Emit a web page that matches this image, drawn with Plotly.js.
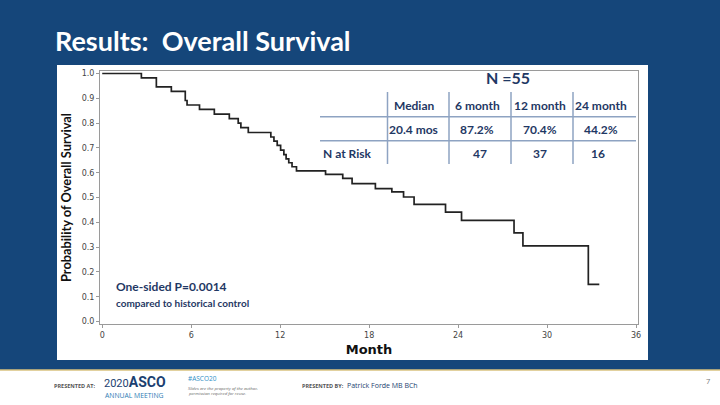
<!DOCTYPE html>
<html>
<head>
<meta charset="utf-8">
<script src="https://cdn.plot.ly/plotly-3.0.1.min.js"></script>
<style>
  html, body { margin: 0; padding: 0; background: #15467A; }
  #chart { width: 720px; height: 405px; }
</style>
</head>
<body>
<div id="chart"></div>
<script>
// ---- Data ----
const months = [0, 2.64, 3.65, 4.66, 5.6, 5.72, 6.56, 7.56, 8.57, 9.17, 9.35, 9.85,
  11.37, 11.58, 11.8, 12.03, 12.25, 12.4, 12.58, 12.8, 13.1,
  15.06, 16.22, 16.85, 18.42, 19.53, 20.32, 21.03, 23.15, 24.23, 27.77, 28.37, 32.78, 33.52];
const survival = [1.0, 0.982, 0.946, 0.928, 0.891, 0.873, 0.855, 0.836, 0.818, 0.800, 0.782, 0.762,
  0.744, 0.727, 0.710, 0.691, 0.673, 0.656, 0.640, 0.624, 0.607,
  0.593, 0.577, 0.556, 0.536, 0.523, 0.502, 0.472, 0.441, 0.408, 0.357, 0.305, 0.150, 0.150];

const xTicks = [0, 6, 12, 18, 24, 30, 36];
const xTickLabels = ["0", "6", "12", "18", "24", "30", "36"];
const yTicks = [0, 0.1, 0.2, 0.3, 0.4, 0.5, 0.6, 0.7, 0.8, 0.9, 1.0];
const yTickLabels = ["0.0", "0.1", "0.2", "0.3", "0.4", "0.5", "0.6", "0.7", "0.8", "0.9", "1.0"];

// Summary table
const tableTitle = "N =55";
const tableHeader = ["Median", "6 month", "12 month", "24 month"];
const tableRow1 = ["20.4 mos", "87.2%", "70.4%", "44.2%"];
const tableRow2Label = "N at Risk";
const tableRow2 = ["", "47", "37", "16"];

const pText1 = "One-sided P=0.0014";
const pText2 = "compared to historical control";

// ---- Layout geometry (pixels) ----
const W = 720, H = 405;
const M = {l: 100, r: 82, t: 71, b: 81};
const PW = W - M.l - M.r, PH = H - M.t - M.b;
const px = x => (x - M.l) / PW;
const py = y => (H - M.b - y) / PH;

const NAVY = "#1F3864";
const LINEC = "#8EA3C2";
const FONT = "Lato, 'Open Sans', sans-serif";

const shapes = [];
const annotations = [];

// White chart panel
shapes.push({type: "rect", xref: "paper", yref: "paper", layer: "below",
  x0: px(57), x1: px(648), y0: py(360), y1: py(65),
  fillcolor: "#FFFFFF", line: {width: 0}});
// Footer
shapes.push({type: "rect", xref: "paper", yref: "paper", layer: "below",
  x0: px(0), x1: px(720), y0: py(405), y1: py(370),
  fillcolor: "#FFFFFF", line: {width: 0}});
shapes.push({type: "line", xref: "paper", yref: "paper",
  x0: px(0), x1: px(720), y0: py(370), y1: py(370),
  line: {color: "#D8C27E", width: 1.5}});

// Table lines
[116.7, 140.7].forEach(y => shapes.push({type: "line", xref: "paper", yref: "paper",
  x0: px(320), x1: px(636), y0: py(y), y1: py(y), line: {color: LINEC, width: 1.5}}));
[387.5, 449, 511, 573].forEach(x => shapes.push({type: "line", xref: "paper", yref: "paper",
  x0: px(x), x1: px(x), y0: py(92), y1: py(164), line: {color: LINEC, width: 1.5}}));

function txt(text, x, y, size, color, extra) {
  annotations.push(Object.assign({text: text, xref: "paper", yref: "paper",
    x: px(x), y: py(y), xanchor: "center", yanchor: "middle", showarrow: false,
    font: {family: FONT, size: size, color: color, weight: 700}}, extra || {}));
}

txt(tableTitle, 508, 78, 16, NAVY);
const colX = [414, 477, 540, 601];
tableHeader.forEach((t, i) => txt(t, colX[i], 105, 12, NAVY));
tableRow1.forEach((t, i) => txt(t, colX[i] - (i === 0 ? 1 : 0), 129.5, 12, NAVY));
txt(tableRow2Label, 347, 153, 12, NAVY);
tableRow2.forEach((t, i) => { if (t) txt(t, colX[i] + (i === 1 ? 3 : 0) - (i === 3 ? 3 : 0), 153, 12, NAVY); });

txt(pText1, 114, 286, 12, NAVY, {xanchor: "left"});
txt(pText2, 114, 302.5, 10, NAVY, {xanchor: "left"});

// Footer texts
const FOOTF = "'Open Sans', Lato, sans-serif";
function ftxt(text, x, y, size, color, weight, extra) {
  annotations.push(Object.assign({text: text, xref: "paper", yref: "paper",
    x: px(x), y: py(y), xanchor: "left", yanchor: "middle", showarrow: false,
    font: {family: FOOTF, size: size, color: color, weight: weight || 400}}, extra || {}));
}
ftxt("PRESENTED AT:", 52, 385.5, 5.5, "#555", 700);
ftxt("2020<span style='font-size:14px;font-weight:bold'>ASCO</span>", 102, 382, 11, "#1B3F70", 400,
  {font: {family: "Roboto, sans-serif", size: 11, color: "#1B3F70", weight: 400}});
ftxt("ANNUAL MEETING", 103, 395, 6.8, "#2F7DB5", 400);
ftxt("#ASCO20", 186, 378, 6.5, "#2F8FC6", 400);
ftxt("<i>Slides are the property of the author,</i>", 186, 387.5, 4.3, "#666", 400);
ftxt("<i>permission required for reuse.</i>", 186, 392.5, 4.3, "#666", 400);
ftxt("PRESENTED BY:", 300, 385.5, 5.5, "#555", 700);
ftxt("Patrick Forde MB BCh", 345, 385.5, 7, "#1B3F70", 400);
ftxt("7", 704, 381, 7.5, "#777", 400);

const trace = {
  x: months, y: survival, type: "scatter", mode: "lines",
  line: {shape: "hv", color: "#222222", width: 1.7},
  hoverinfo: "skip", showlegend: false
};

const axisCommon = {
  showgrid: false, zeroline: false, showline: true, linecolor: "#9A9A9A", linewidth: 1,
  mirror: true, ticks: "outside", ticklen: 3, tickcolor: "#9A9A9A",
  tickfont: {family: "'DejaVu Sans', sans-serif", size: 8, color: "#444"}
};

const layout = {
  width: W, height: H,
  margin: M,
  paper_bgcolor: "#15467A",
  plot_bgcolor: "#FFFFFF",
  title: {text: "Results:  Overall Survival", x: 55 / W, xref: "container", xanchor: "left",
    y: 1 - 42 / H, yref: "container", yanchor: "middle",
    font: {family: FONT, size: 27, color: "#FFFFFF", weight: 700}},
  xaxis: Object.assign({}, axisCommon, {
    range: [-0.15, 36.13], tickvals: xTicks, ticktext: xTickLabels,
    title: {text: "Month", standoff: 6,
      font: {family: "'DejaVu Sans', sans-serif", size: 13, color: "#111", weight: 700}}
  }),
  yaxis: Object.assign({}, axisCommon, {
    range: [-0.01, 1.01], tickvals: yTicks, ticktext: yTickLabels,
    title: {text: "Probability of Overall Survival", standoff: 7,
      font: {family: FONT, size: 12.8, color: "#111", weight: 700}}
  }),
  shapes: shapes,
  annotations: annotations
};

Plotly.newPlot("chart", [trace], layout, {displayModeBar: false, staticPlot: true});
</script>
</body>
</html>
